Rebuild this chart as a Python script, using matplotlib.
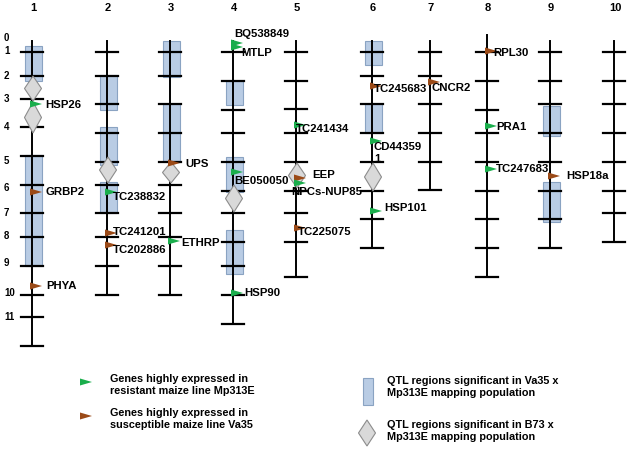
import matplotlib.pyplot as plt
from matplotlib.patches import Polygon, Rectangle

plt.rcParams['font.family'] = ['Liberation Sans', 'DejaVu Sans']
plt.rcParams['font.weight'] = 'bold'

# Chromosome maps (map position, 0 = top of chromosome)
chrom_names = ['1', '2', '3', '4', '5', '6', '7', '8', '9', '10']
chrom_top = [0, 0, 0, 0, 0, 0, 0, -6, 0, 0]
chrom_bottom = [305, 254, 254, 283, 236, 207, 149, 236, 207, 201]
chrom_ticks = [
    [11, 35, 58, 86, 115, 144, 172, 196, 225, 254, 276, 305],
    [11, 35, 63, 92, 121, 144, 172, 196, 225, 254],
    [11, 35, 63, 92, 121, 144, 172, 196, 225, 254],
    [11, 40, 69, 92, 121, 150, 172, 201, 225, 254, 283],
    [11, 40, 68, 92, 121, 150, 172, 201, 236],
    [11, 35, 63, 92, 121, 150, 178, 207],
    [11, 35, 63, 92, 121, 149],
    [11, 40, 69, 92, 121, 150, 178, 207, 236],
    [11, 40, 63, 92, 121, 150, 178, 207],
    [11, 40, 63, 92, 121, 150, 172, 201],
]

# scale labels on the left
scale_labels = ['0', '1', '2', '3', '4', '5', '6', '7', '8', '9', '10', '11']
scale_pos = [-3, 10, 35, 58, 86, 120, 147, 172, 195, 222, 252, 276]

# QTL regions (Va35 x Mp313E): chromosome, start, end
va35_chrom = [1, 1, 2, 2, 2, 3, 3, 4, 4, 4, 6, 6, 9, 9]
va35_start = [5, 114, 34, 86, 141, 0, 63, 40, 116, 189, 0, 63, 65, 141]
va35_end = [40, 225, 69, 124, 172, 36, 121, 64, 151, 233, 24, 92, 95, 181]

# QTL regions (B73 x Mp313E)
b73_chrom = [1, 1, 2, 3, 4, 5, 6]
b73_start = [35, 61, 116, 121, 144, 122, 122]
b73_end = [60, 92, 142, 142, 171, 147, 150]

# genes: chromosome, position, expressed in (R = resistant Mp313E, S = susceptible Va35)
gene_names = ['HSP26', 'GRBP2', 'PHYA', 'TC238832', 'TC241201', 'TC202886',
              'UPS', 'ETHRP', 'BQ538849', 'MTLP', 'BE050050', 'HSP90',
              'TC241434', 'EEP', 'NPCs-NUP85', 'TC225075', 'TC245683',
              'CD44359\n1', 'HSP101', 'CNCR2', 'RPL30', 'PRA1', 'TC247683',
              'HSP18a']
gene_chrom = [1, 1, 1, 2, 2, 2, 3, 3, 4, 4, 4, 4, 5, 5, 5, 5, 6, 6, 6, 7, 8, 8, 8, 9]
gene_pos = [63, 151, 245, 151, 192, 204, 122, 200, 2, 6, 131, 252,
            84, 137, 142, 187, 45, 100, 170, 41, 10, 85, 128, 135]
gene_group = ['R', 'S', 'S', 'R', 'S', 'S', 'S', 'R', 'R', 'R', 'R', 'R',
              'R', 'S', 'R', 'S', 'S', 'R', 'R', 'S', 'S', 'R', 'R', 'S']

# layout
chrom_x = [32, 107, 170, 233, 296, 372, 430, 487, 550, 614]
label_dx = [13, 14, 14, 6, 6, 6, 15, 11, 1, 8, 1, 11,
            0, 16, -5, 2, 2, 2, 12, 2, 6, 9, 9, 16]
label_dy = [1, 0, 0, 5, -1, 5, 1, 2, -9, 6, 9, 0,
            4, -3, 9, 4, 3, 12, -3, 6, 2, 1, 0, 0]
colors = {'R': '#1aae4c', 'S': '#9b4a17'}
box_fc, box_ec = '#b9cce4', '#8aa3c2'
dia_fc, dia_ec = '#d9d9d9', '#8c8c8c'

fig = plt.figure(figsize=(6.3, 4.5), dpi=100)
ax = fig.add_axes([0, 0, 1, 1])
ax.set_xlim(0, 630)
ax.set_ylim(409, -41)
ax.axis('off')


def triangle(x, y, color):
    ax.add_patch(Polygon([(x - 2, y - 3.5), (x - 2, y + 3.5), (x + 10, y)],
                         closed=True, fc=color, ec='none', zorder=5))


def diamond(x, y0, y1, w=8.5):
    ym = (y0 + y1) / 2
    ax.add_patch(Polygon([(x, y0), (x + w, ym), (x, y1), (x - w, ym)],
                         closed=True, fc=dia_fc, ec=dia_ec, lw=0.8, zorder=3))


# QTL boxes
for c, s, e in zip(va35_chrom, va35_start, va35_end):
    x = chrom_x[c - 1]
    ax.add_patch(Rectangle((x - 7.5, s), 17, e - s, fc=box_fc, ec=box_ec,
                           lw=0.8, zorder=1))

for c, s, e in zip(b73_chrom, b73_start, b73_end):
    diamond(chrom_x[c - 1] + 1, s, e)

# chromosomes
for i, name in enumerate(chrom_names):
    x = chrom_x[i]
    ax.plot([x, x], [chrom_top[i], chrom_bottom[i]], color='black', lw=1.4, zorder=2)
    for t in chrom_ticks[i]:
        ax.plot([x - 11, x + 11], [t, t], color='black', lw=1.6, zorder=2)
    ax.text(x + 1, -33, name, ha='center', va='center', fontsize=8)

for lab, p in zip(scale_labels, scale_pos):
    ax.text(4, p, lab, ha='left', va='center', fontsize=7)

# genes
for i, g in enumerate(gene_names):
    x = chrom_x[gene_chrom[i] - 1]
    y = gene_pos[i]
    triangle(x, y, colors[gene_group[i]])
    ax.text(x + label_dx[i], y + label_dy[i], g, ha='left', va='center',
            fontsize=8.2, zorder=6, linespacing=1.3)

# legend
triangle(82, 341, colors['R'])
triangle(82, 375, colors['S'])
ax.text(110, 344, 'Genes highly expressed in\nresistant maize line Mp313E',
        ha='left', va='center', fontsize=7.8, linespacing=1.35)
ax.text(110, 378, 'Genes highly expressed in\nsusceptible maize line Va35',
        ha='left', va='center', fontsize=7.8, linespacing=1.35)
ax.add_patch(Rectangle((363, 337), 10, 27, fc=box_fc, ec=box_ec, lw=0.8))
ax.text(387, 346, 'QTL regions significant in Va35 x\nMp313E mapping population',
        ha='left', va='center', fontsize=7.8, linespacing=1.35)
diamond(367, 379, 405)
ax.text(387, 390, 'QTL regions significant in B73 x\nMp313E mapping population',
        ha='left', va='center', fontsize=7.8, linespacing=1.35)

fig.savefig('out.png', dpi=100)
